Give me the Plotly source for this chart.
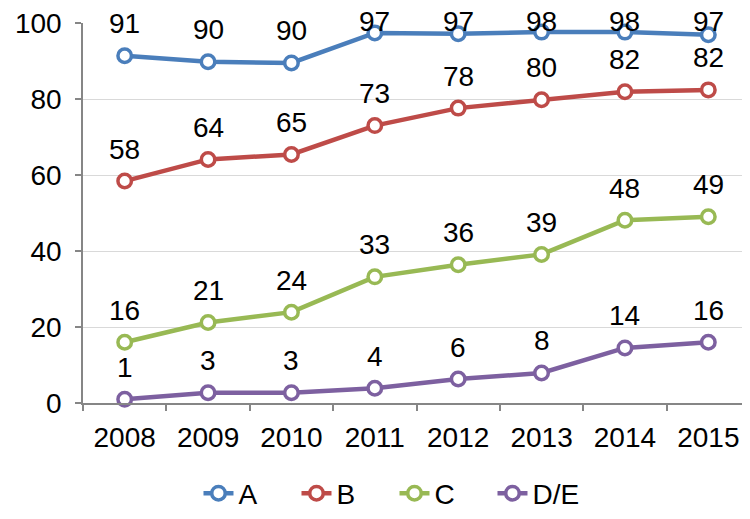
import plotly.graph_objects as go

years = ["2008", "2009", "2010", "2011", "2012", "2013", "2014", "2015"]
series_names = ["A", "B", "C", "D/E"]
values_a = [91.4, 89.8, 89.5, 97.4, 97.2, 97.6, 97.6, 96.9]
values_b = [58.4, 64.1, 65.4, 73.0, 77.6, 79.8, 81.9, 82.4]
values_c = [16.0, 21.2, 23.9, 33.2, 36.4, 39.1, 48.1, 49.0]
values_de = [1.0, 2.7, 2.7, 3.9, 6.3, 7.9, 14.5, 16.0]
labels_a = ["91", "90", "90", "97", "97", "98", "98", "97"]
labels_b = ["58", "64", "65", "73", "78", "80", "82", "82"]
labels_c = ["16", "21", "24", "33", "36", "39", "48", "49"]
labels_de = ["1", "3", "3", "4", "6", "8", "14", "16"]
colors = ["#4a7ebb", "#be4b48", "#98b954", "#7d60a0"]

all_values = [values_a, values_b, values_c, values_de]
all_labels = [labels_a, labels_b, labels_c, labels_de]

FONT = "Liberation Sans, Arial, sans-serif"
FS = 28

# layout geometry (figure pixels)
W, H = 742, 511
ML, MR, MT, MB = 75, 0, 13, 116
PLOT_H = H - MT - MB
Y_MAX = 100
LABEL_GAP = 32
LABEL_MIN_CENTER = 12  # keep labels inside the chart area

fig = go.Figure()
annotations = []
for name, vals, labs, col in zip(series_names, all_values, all_labels, colors):
    fig.add_trace(go.Scatter(
        x=years, y=vals, name=name, mode="lines+markers",
        line=dict(color=col, width=4.5),
        marker=dict(symbol="circle", size=13.5, color="white",
                    line=dict(color=col, width=3.5)),
        cliponaxis=False,
    ))
    for i, (yv, t) in enumerate(zip(vals, labs)):
        px_from_top = MT + (Y_MAX - yv) / Y_MAX * PLOT_H
        shift = min(LABEL_GAP, px_from_top - LABEL_MIN_CENTER)
        annotations.append(dict(x=i, y=yv, text=t, showarrow=False,
                                yshift=shift, xref="x", yref="y",
                                font=dict(family=FONT, size=FS, color="black")))

fig.update_layout(
    width=W, height=H,
    margin=dict(l=ML, r=MR, t=MT, b=MB),
    paper_bgcolor="white", plot_bgcolor="white",
    font=dict(family=FONT, size=FS, color="black"),
    annotations=annotations,
    showlegend=True,
    legend=dict(orientation="h", x=0.467, xanchor="center", y=-0.238, yanchor="middle",
                font=dict(family=FONT, size=FS), entrywidth=53, entrywidthmode="pixels"),
)
fig.update_xaxes(
    type="category", range=[-0.5, 7.5],
    showline=True, linecolor="#868686", linewidth=1.5,
    ticks="outside", tickson="boundaries", ticklen=6, tickcolor="#868686",
    tickwidth=1.5, showgrid=False, zeroline=False,
    tickfont=dict(family=FONT, size=FS), ticklabelstandoff=9,
)
fig.update_yaxes(
    range=[0, 100], dtick=20, tick0=0,
    showline=True, linecolor="#868686", linewidth=1.5,
    ticks="outside", ticklen=6, tickcolor="#868686", tickwidth=1.5,
    showgrid=True, gridcolor="#d9d9d9", gridwidth=1.2, zeroline=False,
    tickfont=dict(family=FONT, size=FS), ticklabelstandoff=8,
    ticklabeloverflow="allow",
)

fig.write_html("out.html")
